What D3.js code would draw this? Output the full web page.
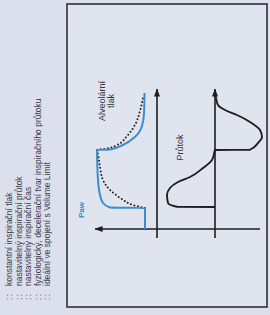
<!DOCTYPE html>
<html><head><meta charset="utf-8">
<script src="https://cdn.jsdelivr.net/npm/d3@7"></script>
<style>html,body{margin:0;padding:0;background:#dde1ee;} svg{display:block}</style>
</head><body>
<script>
// ---- data ----
const notes = [
  "konstantní inspirační tlak",
  "nastavitelný inspirační průtok",
  "nastavitelný inspirační čas",
  "fyziologický, decelerační tvar inspiračního průtoku",
  "ideální ve spojení s Volume Limit"
];
// airway pressure (Paw), blue solid
const pawTime  = [0, 21, 21.5, 26, 34, 44, 59, 79, 79.5, 84, 92, 103, 116, 136];
const pawValue = [5, 5, 19.6, 22.5, 23.75, 24.4, 24.8, 25, 19.6, 14.2, 9.2, 6.25, 5.4, 5.2];
// alveolar pressure, dotted
const alvTime  = [21, 24, 30, 39, 49, 62, 74, 79, 80.5, 84, 93, 104, 118, 132];
const alvValue = [5, 10, 14.6, 19.6, 22.5, 23.75, 24.5, 24.9, 20.8, 16.7, 12.5, 9.2, 7.1, 5.8];
// flow (Průtok)
const flowTime  = [22, 22.3, 26, 34, 41, 47, 52, 61, 69, 75, 79, 79.3, 86, 92, 99, 107, 114, 119, 124, 131, 136];
const flowValue = [0, 38, 47, 48, 45, 37, 25, 12, 3, 1, 0, -35, -43, -47, -45, -35, -22, -10, -3, -1, 0];
const labels = {paw: "Paw", alv: ["Alveolární", "tlak"], flow: "Průtok"};

// ---- layout (chart built upright, then rotated -90°) ----
const W = 315, H = 270;
const svg = d3.select("body").append("svg").attr("width", H).attr("height", W);
svg.append("rect").attr("width", H).attr("height", W).attr("fill", "#dcdfec");

const defs = svg.append("defs");
defs.append("marker").attr("id", "arr")
  .attr("viewBox", "0 0 8 6").attr("refX", 7.5).attr("refY", 3)
  .attr("markerWidth", 8).attr("markerHeight", 6)
  .attr("markerUnits", "userSpaceOnUse").attr("orient", "auto")
  .append("path").attr("d", "M0,0L8,3L0,6z").attr("fill", "#1e1e1e");

const g = svg.append("g").attr("transform", `translate(0,${W}) rotate(-90)`);

// frame
g.append("rect").attr("x", 8).attr("y", 67).attr("width", 303).attr("height", 200)
  .attr("fill", "#e0e4ef").attr("stroke", "#44444f").attr("stroke-width", 1.8);

// notes
const font = "Liberation Sans, Arial, sans-serif";
notes.forEach((t, i) => {
  const yb = 12 + i * 9.6;
  g.append("text").attr("x", 15).attr("y", yb).text("::")
    .attr("font-family", font).attr("font-size", 8.5).attr("letter-spacing", 1.5).attr("fill", "#3a3a48");
  g.append("text").attr("x", 29).attr("y", yb).text(t)
    .attr("font-family", font).attr("font-size", 8.5).attr("fill", "#3a3a48");
});

// scales
const x = d3.scaleLinear().domain([0, 140]).range([86, 226]);
const yP = d3.scaleLinear().domain([0, 25]).range([157, 97]);
const yF = d3.scaleLinear().domain([-50, 50]).range([265, 165]);

// axes
const axisColor = "#1e1e1e";
g.append("line").attr("x1", x(0)).attr("x2", x(0)).attr("y1", yF(-45)).attr("y2", yP(25.8))
  .attr("stroke", axisColor).attr("stroke-width", 1.6).attr("marker-end", "url(#arr)");
g.append("line").attr("x1", x(-9)).attr("x2", x(140)).attr("y1", yP(0)).attr("y2", yP(0))
  .attr("stroke", axisColor).attr("stroke-width", 1.6).attr("marker-end", "url(#arr)");
g.append("line").attr("x1", x(-9)).attr("x2", x(140)).attr("y1", yF(0)).attr("y2", yF(0))
  .attr("stroke", axisColor).attr("stroke-width", 1.6).attr("marker-end", "url(#arr)");

// curves
const lineP = d3.line().x(d => x(d[0])).y(d => yP(d[1])).curve(d3.curveMonotoneX);
const lineF = d3.line().x(d => x(d[0])).y(d => yF(d[1])).curve(d3.curveMonotoneX);

g.append("path").datum(alvTime.map((t, i) => [t, alvValue[i]])).attr("d", lineP)
  .attr("fill", "none").attr("stroke", "#222").attr("stroke-width", 2)
  .attr("stroke-dasharray", "0 3.6").attr("stroke-linecap", "round");
g.append("path").datum(pawTime.map((t, i) => [t, pawValue[i]])).attr("d", lineP)
  .attr("fill", "none").attr("stroke", "#3d8cce").attr("stroke-width", 2);
g.append("path").datum(flowTime.map((t, i) => [t, flowValue[i]])).attr("d", lineF)
  .attr("fill", "none").attr("stroke", "#1e1e1e").attr("stroke-width", 1.9);

// labels
g.append("text").attr("x", 97).attr("y", 83.5).text(labels.paw)
  .attr("font-family", font).attr("font-size", 8).attr("font-weight", "bold").attr("fill", "#3d8cce");
labels.alv.forEach((t, i) => {
  g.append("text").attr("x", 214).attr("y", 105 + i * 8.5).attr("text-anchor", "middle").text(t)
    .attr("font-family", font).attr("font-size", 9).attr("fill", "#333");
});
g.append("text").attr("x", 167.5).attr("y", 182.5).attr("text-anchor", "middle").text(labels.flow)
  .attr("font-family", font).attr("font-size", 9).attr("fill", "#333");
</script>
</body></html>
